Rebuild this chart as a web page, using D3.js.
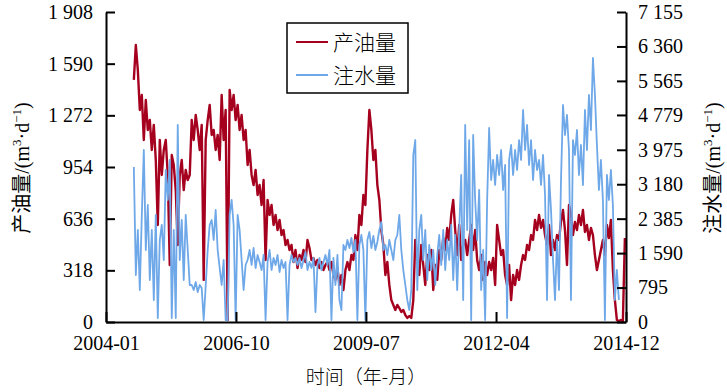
<!DOCTYPE html>
<html lang="zh">
<head>
  <meta charset="UTF-8">
  <title>产油量 / 注水量</title>
  <script src="https://cdn.jsdelivr.net/npm/d3@7"></script>
  <style>
    body { margin: 0; background: #fff; }
    .num { font-family: "Liberation Serif", serif; }
  </style>
</head>
<body>
  <div id="chart"></div>
  <script>
    // sampling: first reading on 2004-08-03, one reading every 15.42 days
    const firstDay = '2004-08-03';
    const stepDays = 15.42;

    // 产油量 (m3/d), left axis
    const oil = [
      1490,1705,1551,1305,1397,1120,1366,1182,1243,1059,
      1213,997,597,1120,905,1059,1120,905,351,1028,
      966,812,474,905,997,812,936,874,905,1243,
      1120,1274,1182,1059,1213,259,1120,1243,1336,1151,
      1182,1059,1151,997,1397,1120,1305,12,1428,1305,
      1397,1243,1336,1182,1274,1120,1182,966,1059,905,
      843,936,782,843,720,874,382,751,659,720,
      597,659,566,628,535,566,474,505,443,474,
      369,443,332,412,382,443,369,505,455,382,
      394,351,382,332,369,320,351,369,320,369,
      289,259,332,228,289,197,320,369,320,412,
      382,535,443,659,597,782,720,1059,1305,1182,
      997,1059,843,751,566,474,289,369,228,135,
      105,74,105,86,62,74,43,25,37,25,
      135,505,412,289,474,351,228,412,320,443,
      197,351,259,443,382,517,443,579,505,659,
      751,566,412,597,382,474,505,412,505,597,
      443,566,382,320,412,259,369,289,369,320,
      394,228,597,505,412,443,289,228,351,135,
      289,228,320,259,351,412,382,474,443,535,
      505,628,566,659,579,628,535,474,597,412,
      505,443,535,505,616,689,566,351,720,659,
      535,616,566,659,597,689,554,597,505,579,
      535,412,320,382,443,505,412,597,517,628,
      320,135,12,6,12,6,517
    ];

    // 注水量 (m3/d), right axis
    const water = [
      3577,1085,2123,739,2470,3970,1662,2700,969,2123,
      508,2470,92,1893,2239,1431,3508,2816,3739,92,
      2123,92,4547,1431,2354,969,2470,1662,854,854,
      739,923,692,854,785,46,831,1662,2239,2354,
      1893,2585,1662,1246,854,1431,46,46,2470,2816,
      2239,46,2470,2123,1431,739,1316,1431,1662,1316,
      1708,1246,1546,1385,1200,1546,46,1385,1662,1200,
      1477,1316,1546,1154,1431,1246,1385,46,1316,1546,
      1385,1477,1316,1477,1246,1431,1616,1200,1385,1246,
      1477,231,1316,1477,1200,1385,1546,1316,1662,46,
      1477,854,1546,508,277,1777,1662,1893,1708,1939,
      1616,1893,46,1777,2008,1662,46,1893,2077,1708,
      1985,1662,1846,2123,2308,1662,1777,1546,1893,1662,
      1431,1893,2008,2470,1662,1200,854,508,277,739,
      3854,4200,739,2123,2470,1431,2123,969,1777,1200,
      1662,854,1546,2008,1316,2123,1200,1893,1431,2239,
      969,2008,739,2123,3393,508,4547,2123,4200,46,
      4316,2816,1893,3047,739,1662,46,2816,4478,3277,
      3739,3162,3854,3393,3970,3047,3624,92,3739,4085,
      3393,3970,3508,4200,3739,4893,3970,4547,3624,4200,
      3277,3970,3508,3739,3162,3854,2931,508,3393,2585,
      1431,508,1893,739,3277,5008,4316,4778,3970,508,
      4200,3854,4431,3393,4085,3162,4893,3970,5239,4431,
      6093,5239,4085,3047,3739,2816,46,3393,2816,3508,
      2700,508,1200,508,null,null,null
    ];

    const oilTicks = [0, 318, 636, 954, 1272, 1590, 1908];
    const waterTicks = [0, 795, 1590, 2385, 3180, 3975, 4779, 5565, 6360, 7155];
    const timeTicks = ['2004-01-01', '2006-10-01', '2009-07-01', '2012-04-01', '2014-12-31'];
    const seriesNames = ['产油量', '注水量'];
    const colors = ['#a6001f', '#6ea8e8'];

    const cjk = "'Noto Sans CJK SC', sans-serif";
    const width = 727, height = 392;
    const plotLeft = 106, plotRight = 626, plotTop = 12, plotBottom = 322;

    const t0 = new Date(firstDay + 'T00:00:00Z').getTime();
    const dates = oil.map((d, i) => new Date(t0 + i * stepDays * 864e5));

    const x = d3.scaleUtc()
      .domain([new Date('2004-01-01T00:00:00Z'), new Date('2014-12-31T00:00:00Z')])
      .range([plotLeft, plotRight]);
    const yOil = d3.scaleLinear().domain([0, 1908]).range([plotBottom, plotTop]);
    const yWater = d3.scaleLinear().domain([0, 7155]).range([plotBottom, plotTop]);

    const fmt = d3.formatLocale({ decimal: '.', thousands: ' ', grouping: [3], currency: ['', ''] }).format(',');

    const svg = d3.select('#chart').append('svg')
      .attr('width', width)
      .attr('height', height);

    // series
    const oilLine = d3.line()
      .x((d, i) => x(dates[i]))
      .y(d => yOil(d));
    const waterLine = d3.line()
      .defined(d => d != null)
      .x((d, i) => x(dates[i]))
      .y(d => yWater(d));

    svg.append('path')
      .datum(oil)
      .attr('fill', 'none')
      .attr('stroke', colors[0])
      .attr('stroke-width', 2.4)
      .attr('stroke-linejoin', 'round')
      .attr('d', oilLine);

    svg.append('path')
      .datum(water)
      .attr('fill', 'none')
      .attr('stroke', colors[1])
      .attr('stroke-width', 1.8)
      .attr('stroke-linejoin', 'round')
      .attr('d', waterLine);

    // axes
    function styleAxis(g) {
      g.attr('font-family', null);
      g.selectAll('path.domain').attr('stroke', '#000').attr('stroke-width', 2);
      g.selectAll('.tick line').attr('stroke', '#000').attr('stroke-width', 2);
      g.selectAll('.tick text').attr('fill', '#000')
        .attr('class', 'num')
        .style('font-size', '20px');
    }

    svg.append('g')
      .attr('transform', 'translate(' + plotLeft + ',0)')
      .call(d3.axisLeft(yOil).tickValues(oilTicks).tickFormat(fmt)
        .tickSizeInner(-9).tickSizeOuter(0).tickPadding(13))
      .call(styleAxis);

    svg.append('g')
      .attr('transform', 'translate(' + plotRight + ',0)')
      .call(d3.axisRight(yWater).tickValues(waterTicks).tickFormat(fmt)
        .tickSizeInner(-9).tickSizeOuter(0).tickPadding(12))
      .call(styleAxis);

    svg.append('g')
      .attr('transform', 'translate(0,' + plotBottom + ')')
      .call(d3.axisBottom(x).tickValues(timeTicks.map(d => new Date(d + 'T00:00:00Z')))
        .tickFormat(d3.utcFormat('%Y-%m'))
        .tickSizeInner(-10).tickSizeOuter(0).tickPadding(14))
      .call(styleAxis);

    // axis titles: Chinese name in CJK font, unit in serif
    function unitTitle(g, name) {
      g.append('tspan').style('font-family', cjk).text(name);
      g.append('tspan').attr('class', 'num').text('/(m');
      g.append('tspan').attr('class', 'num').attr('dy', -8).style('font-size', '13px').text('3');
      g.append('tspan').attr('class', 'num').attr('dy', 8).text('·d');
      g.append('tspan').attr('class', 'num').attr('dy', -8).style('font-size', '13px').text('−1');
      g.append('tspan').attr('class', 'num').attr('dy', 8).text(')');
    }

    svg.append('text')
      .attr('transform', 'translate(29,168) rotate(-90)')
      .attr('text-anchor', 'middle')
      .style('font-size', '20px')
      .call(unitTitle, seriesNames[0]);

    svg.append('text')
      .attr('transform', 'translate(720,168) rotate(-90)')
      .attr('text-anchor', 'middle')
      .style('font-size', '20px')
      .call(unitTitle, seriesNames[1]);

    svg.append('text')
      .attr('x', 366)
      .attr('y', 384)
      .attr('text-anchor', 'middle')
      .style('font-family', cjk)
      .style('font-size', '19px')
      .style('font-weight', 300)
      .text('时间（年-月）');

    // legend
    const legend = svg.append('g').attr('transform', 'translate(287,23)');
    legend.append('rect')
      .attr('width', 121)
      .attr('height', 70)
      .attr('fill', '#fff')
      .attr('stroke', '#000')
      .attr('stroke-width', 1.5);
    seriesNames.forEach((name, i) => {
      const yy = 19 + i * 33;
      legend.append('line')
        .attr('x1', 9).attr('x2', 41)
        .attr('y1', yy).attr('y2', yy)
        .attr('stroke', colors[i])
        .attr('stroke-width', 2);
      legend.append('text')
        .attr('x', 46)
        .attr('y', yy)
        .attr('dy', '0.36em')
        .style('font-family', cjk)
        .style('font-size', '21px')
        .style('font-weight', 300)
        .text(name);
    });
  </script>
</body>
</html>
